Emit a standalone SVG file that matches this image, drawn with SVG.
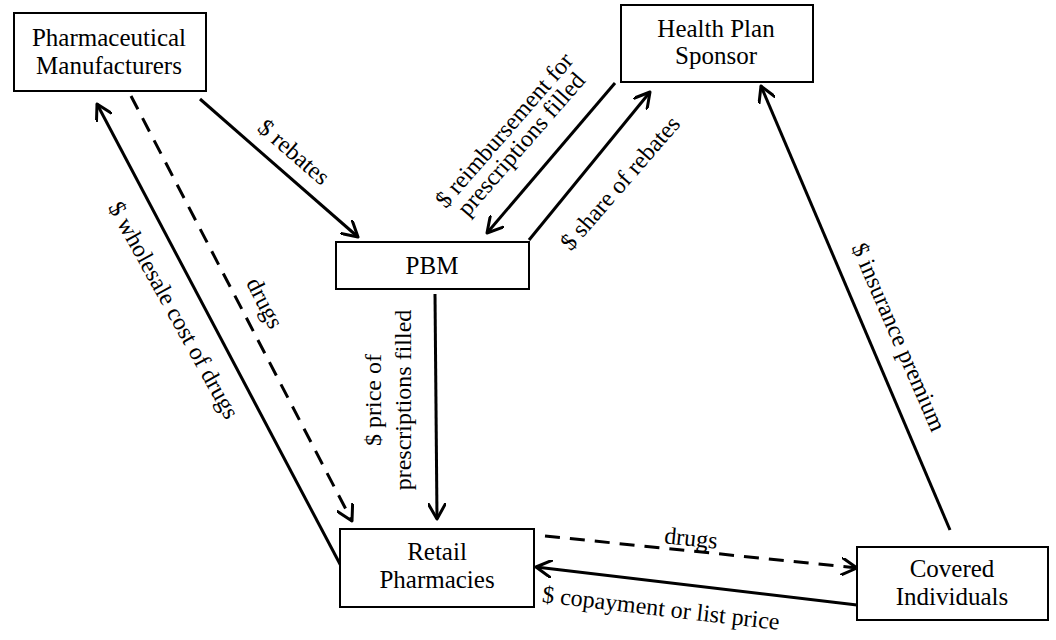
<svg xmlns="http://www.w3.org/2000/svg" width="1056" height="640" viewBox="0 0 1056 640">
<style>
.box{fill:#fff;stroke:#000;stroke-width:2}
text{font-family:'Liberation Serif','Times New Roman',Times,serif;font-size:24px;fill:#000;text-anchor:middle}
.nt{font-size:25px}
.c{stroke:#000;stroke-width:3;fill:none;marker-end:url(#ah)}
.d{stroke-dasharray:15 10}
</style>
<defs>
<marker id="ah" markerUnits="userSpaceOnUse" viewBox="0 0 18 18" markerWidth="18" markerHeight="18" refX="16" refY="9" orient="auto">
<path d="M1,0.5 L16,9 L1,17.5" fill="none" stroke="#000" stroke-width="3" stroke-linejoin="round" stroke-linecap="round"/>
</marker>
</defs>
<rect width="1056" height="640" fill="#fff"/>
<g id="connectors">
<line class="c" x1="200" y1="99" x2="358" y2="237"/>
<line class="c d" x1="131" y1="96" x2="352" y2="521"/>
<line class="c" x1="341" y1="566" x2="97" y2="104"/>
<line class="c" x1="615" y1="83" x2="487" y2="233"/>
<line class="c" x1="529" y1="240" x2="650" y2="92"/>
<line class="c" x1="435" y1="294" x2="437" y2="519"/>
<line class="c" x1="950" y1="530" x2="761" y2="86"/>
<line class="c d" x1="545" y1="536" x2="857" y2="568"/>
<line class="c" x1="857" y1="605" x2="536" y2="567"/>
</g>
<g id="pharma">
<rect class="box" x="14" y="13" width="192" height="78"/>
<text class="nt" x="109" y="46">Pharmaceutical</text>
<text class="nt" x="109" y="74">Manufacturers</text>
</g>
<g id="healthplan">
<rect class="box" x="621" y="5" width="192" height="77"/>
<text class="nt" x="716" y="37">Health Plan</text>
<text class="nt" x="716" y="64">Sponsor</text>
</g>
<g id="pbm">
<rect class="box" x="336" y="242" width="193" height="47"/>
<text class="nt" x="432" y="274">PBM</text>
</g>
<g id="retail">
<rect class="box" x="340" y="529" width="194" height="78"/>
<text class="nt" x="437" y="560">Retail</text>
<text class="nt" x="437" y="588">Pharmacies</text>
</g>
<g id="covered">
<rect class="box" x="857" y="547" width="191" height="73"/>
<text class="nt" x="952" y="577">Covered</text>
<text class="nt" x="952" y="605">Individuals</text>
</g>
<g id="labels">
<text transform="translate(294,152) rotate(41)" y="8">$ rebates</text>
<text transform="translate(174,310) rotate(61)" y="8">$ wholesale cost of drugs</text>
<text transform="translate(265,303) rotate(63)" y="8">drugs</text>
<text transform="translate(504,130) rotate(-49)" y="8">$ reimbursement for</text>
<text transform="translate(521,144) rotate(-49)" y="8">prescriptions filled</text>
<text transform="translate(620,183) rotate(-49)" y="8">$ share of rebates</text>
<text transform="translate(373,400) rotate(-90)" y="8">$ price of</text>
<text transform="translate(403,400) rotate(-90)" y="8">prescriptions filled</text>
<text transform="translate(899,337) rotate(66.5)" y="8">$ insurance premium</text>
<text transform="translate(691,538) rotate(5.8)" y="8">drugs</text>
<text transform="translate(661,608) rotate(6.7)" y="8">$ copayment or list price</text>
</g>
</svg>
